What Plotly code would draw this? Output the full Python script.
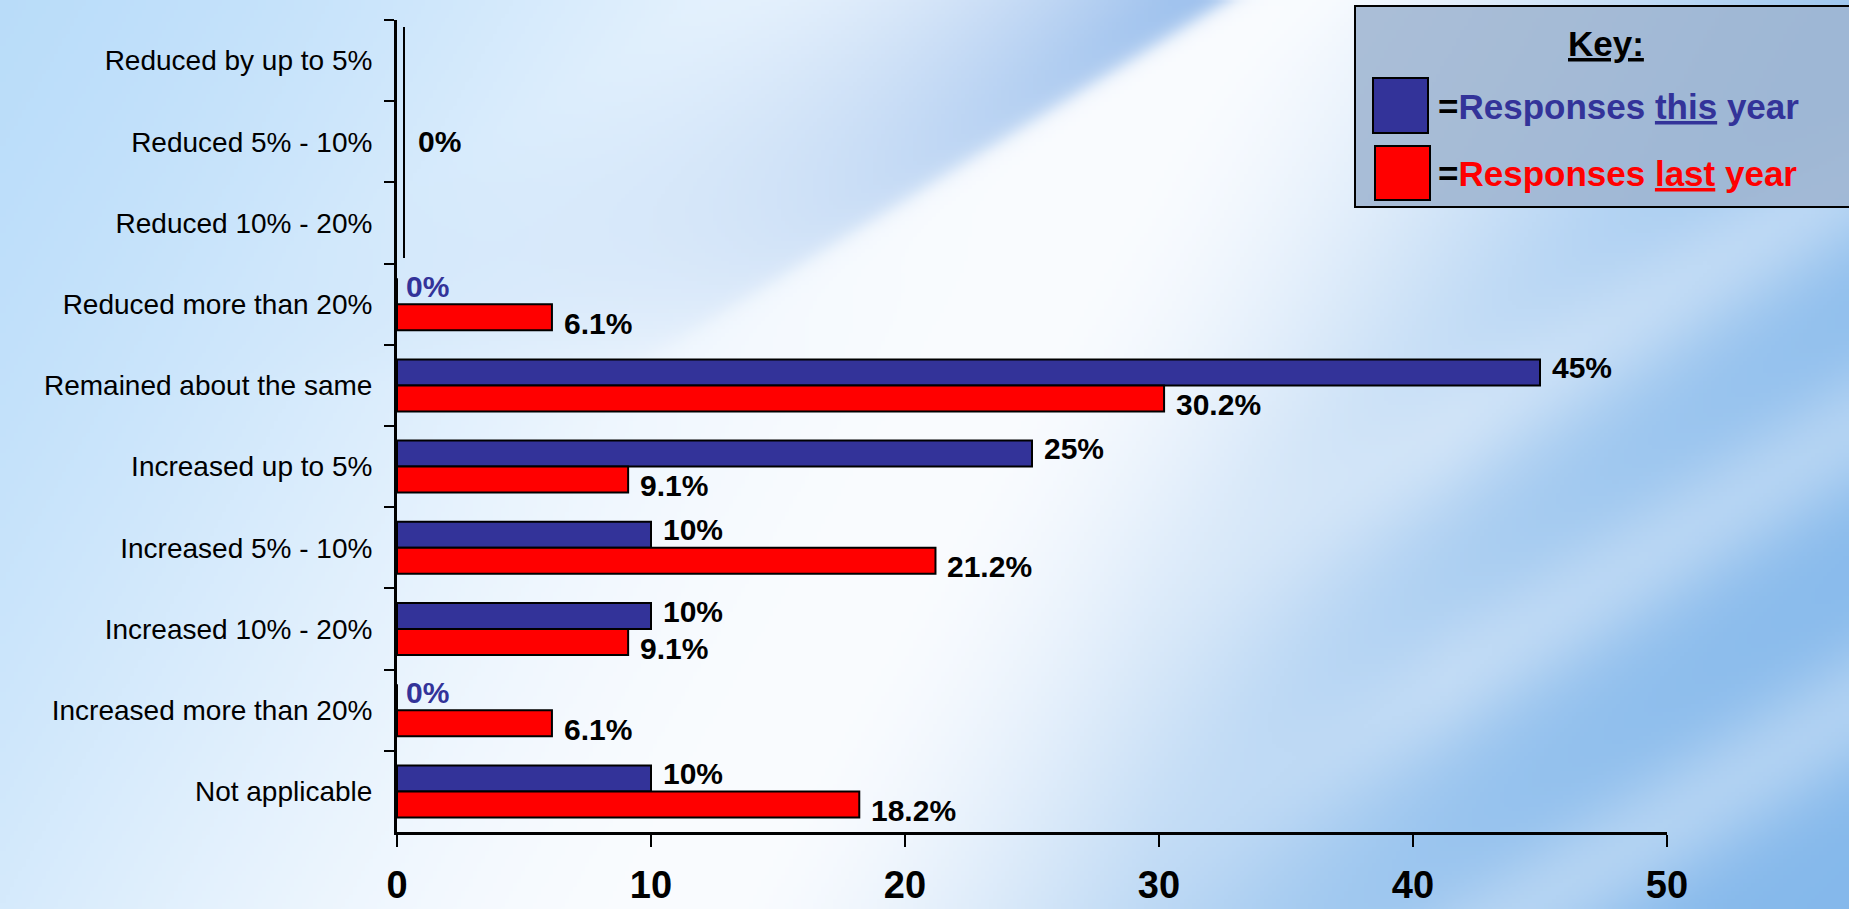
import numpy as np
import zlib, struct, base64
import plotly.graph_objects as go

# ---------------- data ----------------
categories = [
    "Reduced by up to 5%",
    "Reduced 5% - 10%",
    "Reduced 10% - 20%",
    "Reduced more than 20%",
    "Remained about the same",
    "Increased up to 5%",
    "Increased 5% - 10%",
    "Increased 10% - 20%",
    "Increased more than 20%",
    "Not applicable",
]
this_year = [None, None, None, 0, 45, 25, 10, 10, 0, 10]
last_year = [None, None, None, 6.1, 30.2, 9.1, 21.2, 9.1, 6.1, 18.2]
x_ticks = [0, 10, 20, 30, 40, 50]
grouped_zero_label = "0%"   # shared label for the three empty "Reduced" rows

BLUE = "#333399"
RED = "#FF0000"
FONT = "Liberation Sans, Arial, sans-serif"

W, H = 1849, 909
ML, MR, MT, MB = 397, 182, 20, 77
PW, PH = W - ML - MR, H - MT - MB


def xp(px):
    return (px - ML) / PW


def yp(py):
    return 1 - (py - MT) / PH


# ---------------- background image ----------------
def png_data_uri(arr):
    h, w, _ = arr.shape
    raw = b"".join(b"\x00" + arr[i].tobytes() for i in range(h))

    def chunk(tag, data):
        c = struct.pack(">I", len(data)) + tag + data
        return c + struct.pack(">I", zlib.crc32(tag + data) & 0xFFFFFFFF)

    png = (b"\x89PNG\r\n\x1a\n"
           + chunk(b"IHDR", struct.pack(">IIBBBBB", w, h, 8, 2, 0, 0, 0))
           + chunk(b"IDAT", zlib.compress(raw, 9))
           + chunk(b"IEND", b""))
    return "data:image/png;base64," + base64.b64encode(png).decode()


bw, bh = 463, 228
X, Y = np.meshgrid(np.linspace(0, W, bw), np.linspace(0, H, bh))
Lc = np.array([176, 216, 249], float)
Mc = np.array([132, 184, 235], float)
Wc = np.array([250, 252, 255], float)
Dc = np.array([118, 168, 230], float)
v = 1.77 * X + Y
dv = v - 2150
w = np.where(dv < 0, np.exp(-(dv / 1500) ** 2), np.exp(-(dv / 950) ** 2))
side = np.where((dv < 0)[..., None], Lc, Mc)
col = Wc * w[..., None] + side * (1 - w[..., None])
u = 0.62 * X + Y
t = np.clip((u - 430) / (760 - 430), 0, 1) ** 1.5
edge = 1 / (1 + np.exp((u - 760) / 6))
s = t * edge * np.clip(1 - Y / 380, 0, 1) * 0.8
col = col * (1 - s[..., None]) + Dc * s[..., None]
s2 = np.exp(-((u - 810) / 45) ** 2) * np.clip(1 - Y / 520, 0, 1) * 0.6
col = col * (1 - s2[..., None]) + Wc * s2[..., None]
s3 = sum(np.exp(-((u - c) / 70) ** 2) for c in (1330, 1580, 1860)) * np.clip((X - 1150) / 300, 0, 1) * 0.35
col = col * (1 - s3[..., None]) + Wc * s3[..., None]
bg_uri = png_data_uri(np.clip(col, 0, 255).astype(np.uint8))

# ---------------- figure ----------------
fig = go.Figure()
fig.add_trace(go.Bar(
    y=categories, x=this_year, orientation="h", name="Responses this year",
    marker=dict(color=BLUE, line=dict(color="black", width=2)),
))
fig.add_trace(go.Bar(
    y=categories, x=last_year, orientation="h", name="Responses last year",
    marker=dict(color=RED, line=dict(color="black", width=2)),
))

annotations = []
# value labels, placed at each bar's end through the axes
for vals, dy, is_this in ((this_year, 18, True), (last_year, -19, False)):
    for cat, val in zip(categories, vals):
        if val is None:
            continue
        annotations.append(dict(
            x=val, y=cat, xref="x", yref="y", text=f"{val:g}%",
            xanchor="left", yanchor="middle", xshift=7 if val == 0 else 10, yshift=dy,
            showarrow=False,
            font=dict(family=FONT, size=30, weight=700,
                      color=BLUE if (is_this and val == 0) else "black")))

shapes = [
    # thin bracket line next to the empty "Reduced" rows
    dict(type="line", xref="paper", yref="paper", x0=xp(404), x1=xp(404),
         y0=yp(27), y1=yp(258), line=dict(color="black", width=2)),
    # key box
    dict(type="rect", xref="paper", yref="paper", x0=xp(1355), x1=xp(1855),
         y0=yp(6), y1=yp(207), fillcolor="rgba(158,180,208,0.85)",
         line=dict(color="black", width=2), layer="above"),
    dict(type="rect", xref="paper", yref="paper", x0=xp(1373), x1=xp(1428),
         y0=yp(78), y1=yp(133), fillcolor=BLUE, line=dict(color="black", width=2)),
    dict(type="rect", xref="paper", yref="paper", x0=xp(1375), x1=xp(1430),
         y0=yp(146), y1=yp(200), fillcolor=RED, line=dict(color="black", width=2)),
]

annotations += [
    dict(text=grouped_zero_label, xref="paper", yref="paper", x=xp(416), y=yp(141),
         xanchor="left", yanchor="middle", showarrow=False,
         font=dict(family=FONT, size=30, weight=700, color="black")),
    dict(text="<u>Key:</u>", xref="paper", yref="paper", x=xp(1606), y=yp(43),
         xanchor="center", yanchor="middle", showarrow=False,
         font=dict(family=FONT, size=35, weight=700, color="black")),
    dict(text=f"=<span style='color:{BLUE}'>Responses <u>this</u> year</span>",
         xref="paper", yref="paper", x=xp(1436), y=yp(107),
         xanchor="left", yanchor="middle", showarrow=False,
         font=dict(family=FONT, size=35, weight=700, color="black")),
    dict(text=f"=<span style='color:{RED}'>Responses <u>last</u> year</span>",
         xref="paper", yref="paper", x=xp(1436), y=yp(173),
         xanchor="left", yanchor="middle", showarrow=False,
         font=dict(family=FONT, size=35, weight=700, color="black")),
]

fig.update_layout(
    template="none",
    width=W, height=H, autosize=False,
    margin=dict(l=ML, r=MR, t=MT, b=MB, pad=0, autoexpand=False),
    barmode="group", bargap=0.36, bargroupgap=0,
    showlegend=False,
    paper_bgcolor="#e4f0fc", plot_bgcolor="rgba(0,0,0,0)",
    font=dict(family=FONT, color="black"),
    shapes=shapes, annotations=annotations,
    images=[dict(source=bg_uri, xref="paper", yref="paper",
                 x=-ML / PW, y=1 + MT / PH, sizex=W / PW, sizey=H / PH,
                 xanchor="left", yanchor="top", sizing="stretch", layer="below")],
    xaxis=dict(range=[0, 50], tickvals=x_ticks, ticks="outside", ticklen=12, tickwidth=2,
               tickcolor="black", showline=True, linecolor="black", linewidth=3,
               showgrid=False, zeroline=False, ticklabelstandoff=5, automargin=False,
               tickfont=dict(family=FONT, size=38, weight=700, color="black")),
    yaxis=dict(type="category", categoryorder="array", categoryarray=categories,
               autorange="reversed", ticks="outside", ticklen=10, tickwidth=2,
               tickcolor="black", tickson="boundaries", showline=True,
               linecolor="black", linewidth=3, showgrid=False, zeroline=False,
               ticklabelstandoff=16, automargin=False,
               tickfont=dict(family=FONT, size=28, color="black")),
)

fig.write_html("out.html", config={"displayModeBar": False},
               post_script="document.body.style.margin='0';document.body.style.overflow='hidden';")
